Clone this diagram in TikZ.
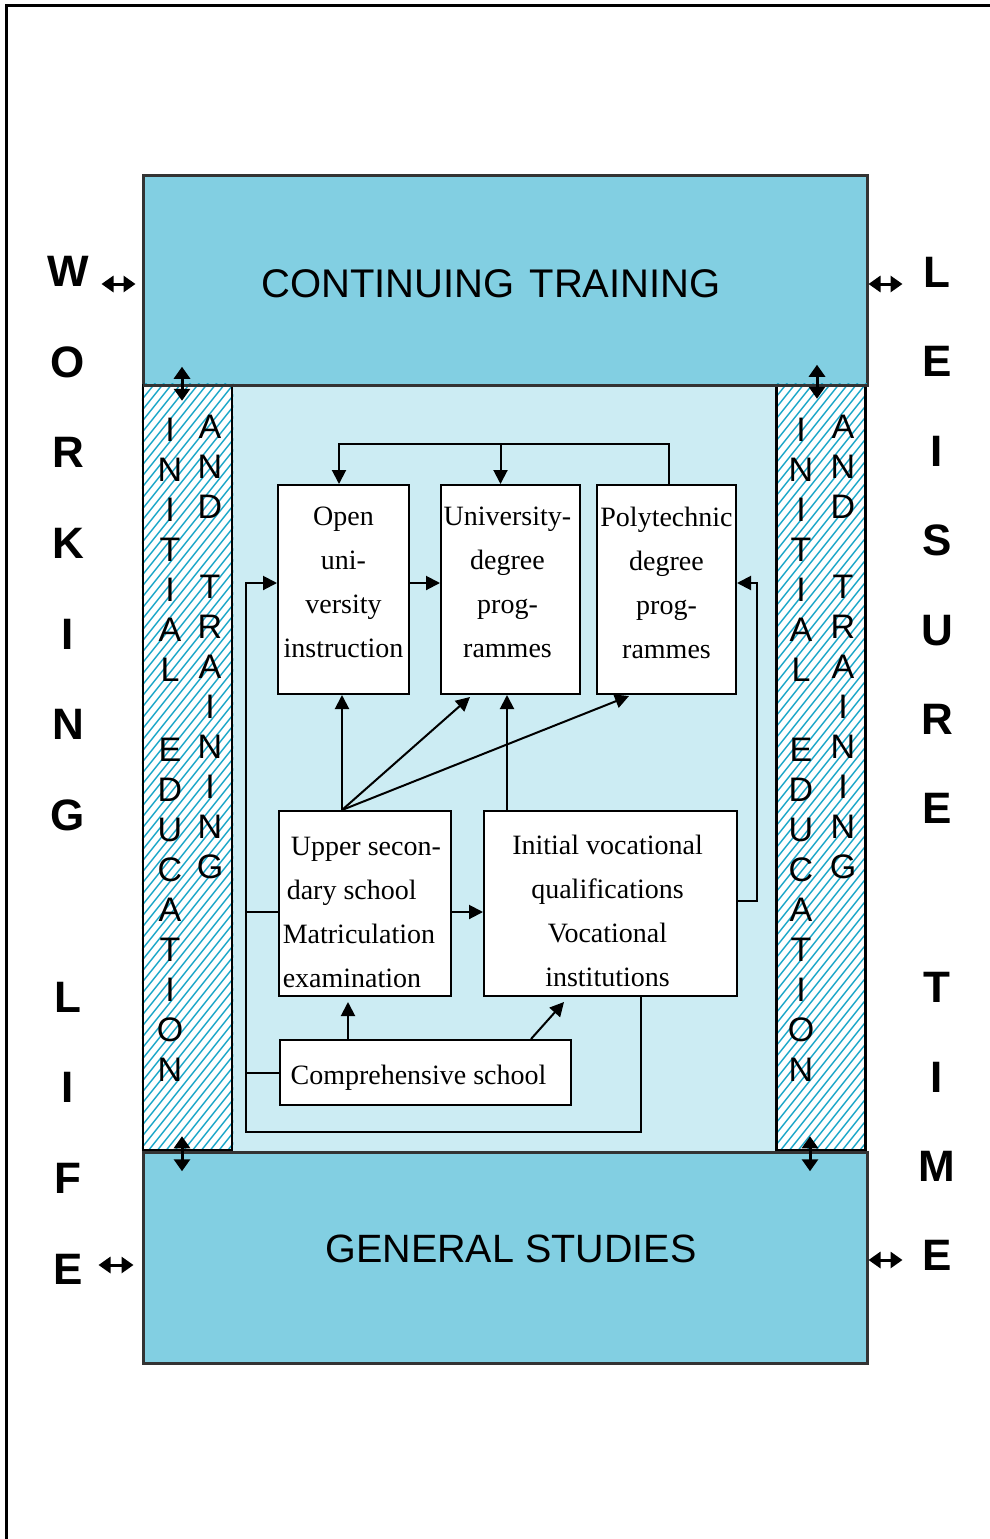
\documentclass[tikz,border=0pt]{standalone}
\usepackage{fontspec}
\setmainfont{Liberation Serif}
\setsansfont{Liberation Sans}
\usetikzlibrary{arrows.meta,calc}
\definecolor{topblue}{HTML}{82CFE2}
\definecolor{midblue}{HTML}{CCECF3}
\definecolor{hatchc}{HTML}{1AA6C8}
\definecolor{edgec}{HTML}{333333}
\newcommand{\upstrut}[1]{\rule{0pt}{#1}}
\newcommand{\dnstrut}[1]{\rule[-#1]{0pt}{0pt}}
\newcommand{\padr}[1]{\rule{#1}{0pt}}
\begin{document}
\begin{tikzpicture}[x=1pt,y=-1pt,
  bluebox/.style={draw=edgec, line width=3pt, fill=topblue, inner sep=0pt},
  wbox/.style={draw=black, line width=2pt, fill=white, inner sep=0pt, align=center, font=\fontsize{28}{44}\selectfont},
  stripbox/.style={draw=black, line width=2.5pt, inner sep=0pt, minimum width=89pt, minimum height=765pt},
  hatchline/.style={draw=hatchc, line width=1.4pt},
  arr/.style={line width=2pt, -{Triangle[length=14pt,width=14pt]}},
  conn/.style={line width=2pt},
  dbl/.style={line width=3pt, {Triangle[length=12pt,width=16pt]}-{Triangle[length=12pt,width=16pt]}},
  coltext/.style={font=\sffamily\fontsize{34}{40}\selectfont, align=center, anchor=north, inner sep=0pt},
  bigtext/.style={font=\sffamily\bfseries\fontsize{44}{#1}\selectfont, align=center, anchor=north, inner sep=0pt},
  titletext/.style={font=\sffamily\fontsize{#1}{44}\selectfont, inner sep=0pt}
]
\useasboundingbox (0,0) rectangle (990,1539);
% outer frame
\draw[line width=3pt] (6,1539) -- (6,5) -- (990,5);
% middle region
\fill[midblue] (143,385) rectangle (867,1152);
% top and bottom boxes
\node[bluebox, minimum width=724pt, minimum height=210pt] (ct) at (505,280) {};
\node[titletext=40] (ctt) at (491,284) {CONTINUING\hspace{4pt} TRAINING};
\node[bluebox, minimum width=724pt, minimum height=211pt] (gs) at (505,1257.5) {};
\node[titletext=39.5] (gst) at (511,1249) {GENERAL STUDIES};
% strips
\node[stripbox, fill=white] (ls) at (187.5,767.5) {};
\node[stripbox, fill=white] (rs) at (821,767.5) {};
\begin{scope}
  \clip (ls.south west) rectangle (ls.north east);
  \foreach \k in {380,391,...,1270} \draw[hatchline] (140,\k) -- ++(100,-125);
\end{scope}
\begin{scope}
  \clip (rs.south west) rectangle (rs.north east);
  \foreach \k in {380,391,...,1270} \draw[hatchline] (772,\k) -- ++(100,-125);
\end{scope}
\node[stripbox] at (ls) {};
\node[stripbox] at (rs) {};
\draw[edgec, line width=3pt] (143,385) -- (867,385);
\draw[edgec, line width=3pt] (143,1152) -- (867,1152);
% strip texts
\node[coltext] (l1) at (170,418) {I\\N\\I\\T\\I\\A\\L\\~\\E\\D\\U\\C\\A\\T\\I\\O\\N};
\node[coltext] (l2) at (210,415) {A\\N\\D\\~\\T\\R\\A\\I\\N\\I\\N\\G};
\node[coltext] (r1) at (801,418) {I\\N\\I\\T\\I\\A\\L\\~\\E\\D\\U\\C\\A\\T\\I\\O\\N};
\node[coltext] (r2) at (843,415) {A\\N\\D\\~\\T\\R\\A\\I\\N\\I\\N\\G};
% side words
\node[bigtext=90.7] (wl) at (68,256) {W\\O\\R\\K\\I\\N\\G\\~\\L\\I\\F\\E};
\node[bigtext=89.4] (lt) at (937,257) {L\\E\\I\\S\\U\\R\\E\\~\\T\\I\\M\\E};
% boxes
\node[wbox, minimum width=131pt, minimum height=209pt] (open) at (343.5,589.5) {Open\\uni-\\versity\\instruction\dnstrut{14pt}};
\node[wbox, minimum width=139pt, minimum height=209pt] (univ) at (510.5,589.5) {University-\padr{6pt}\\degree\padr{6pt}\\prog-\padr{6pt}\\rammes\padr{6pt}\dnstrut{14pt}};
\node[wbox, minimum width=139pt, minimum height=209pt] (poly) at (666.5,589.5) {Polytechnic\\degree\\prog-\\rammes\dnstrut{14pt}};
\node[wbox, align=left, minimum width=172pt, minimum height=185pt] (upper) at (365,903.5) {\upstrut{37pt}\hspace*{8pt}Upper secon-\\\hspace*{4pt}dary school\\Matriculation\padr{12pt}\\examination};
\node[wbox, minimum width=253pt, minimum height=185pt] (init) at (610.5,903.5) {\upstrut{35pt}Initial vocational\padr{6pt}\\qualifications\padr{6pt}\\Vocational\padr{6pt}\\institutions\padr{6pt}};
\node[wbox, minimum width=291pt, minimum height=65pt] (comp) at (425.5,1072.5) {\upstrut{29pt}Comprehensive school\padr{14pt}};
% connectors
\coordinate (tl) at (339,444);
\draw[arr] ([xshift=2.5pt]poly.north) |- (tl) -- (tl |- open.north);
\draw[arr] ([xshift=-10pt]univ.north |- tl) -- ([xshift=-10pt]univ.north);
\draw[arr] ([yshift=6.5pt]open.east) -- ([yshift=6.5pt]univ.west);
\draw[arr] ([yshift=2.5pt]init.east) -- ++(19,0) |- ([yshift=6.5pt]poly.east);
\coordinate (lb) at (246,1132);
\draw[arr] ([xshift=30.5pt]init.south) |- (lb) |- ([yshift=6.5pt]open.west);
\draw[conn] ([yshift=-8.5pt]upper.west) -- ([yshift=-8.5pt]upper.west -| lb);
\draw[conn] (comp.west) -- (comp.west -| lb);
\coordinate (us) at ([xshift=-23pt]upper.north);
\draw[arr] (us) -- (us |- open.south);
\draw[arr] (us) -- ([xshift=30pt,yshift=-2pt]univ.south west);
\draw[arr] (us) -- ([xshift=33pt,yshift=-1pt]poly.south west);
\draw[arr] ([xshift=-103.5pt]init.north) -- ([xshift=-3.5pt]univ.south);
\draw[arr] ([yshift=-8.5pt]upper.east) -- ([yshift=-8.5pt]init.west);
\coordinate (c1) at ([xshift=-77.5pt]comp.north);
\draw[arr, shorten >=5pt] (c1) -- (c1 |- upper.south);
\draw[arr] ([xshift=105.5pt]comp.north) -- ([xshift=81pt,yshift=-5pt]init.south west);
% double arrows
\draw[dbl] ([xshift=-40pt,yshift=-4pt]ct.west) -- ([xshift=-6pt,yshift=-4pt]ct.west);
\draw[dbl] ([yshift=-4pt]ct.east) -- ([xshift=34pt,yshift=-4pt]ct.east);
\draw[dbl] ([xshift=-43pt,yshift=-7.5pt]gs.west) -- ([xshift=-8pt,yshift=-7.5pt]gs.west);
\draw[dbl] ([yshift=-2.5pt]gs.east) -- ([xshift=34pt,yshift=-2.5pt]gs.east);
\draw[dbl] ([xshift=-5.5pt,yshift=17pt]ls.north) -- ([xshift=-5.5pt,yshift=-17pt]ls.north);
\draw[dbl] ([xshift=-4pt,yshift=19pt]rs.north) -- ([xshift=-4pt,yshift=-15pt]rs.north);
\draw[dbl] ([xshift=-5.5pt,yshift=15pt]ls.south) -- ([xshift=-5.5pt,yshift=-20pt]ls.south);
\draw[dbl] ([xshift=-11pt,yshift=15pt]rs.south) -- ([xshift=-11pt,yshift=-20pt]rs.south);
\end{tikzpicture}
\end{document}
